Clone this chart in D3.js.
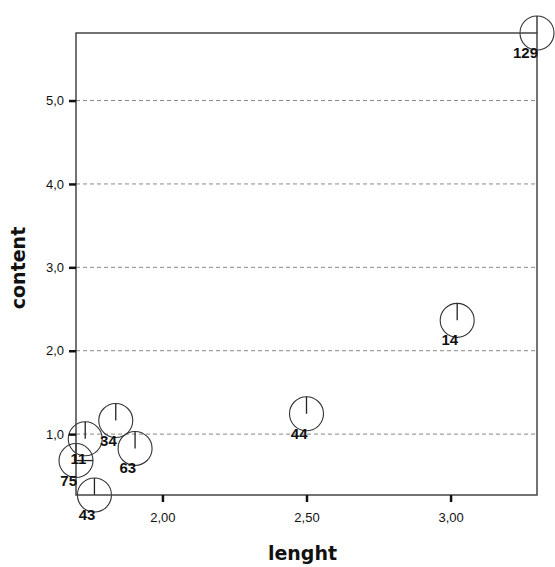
<!DOCTYPE html>
<html>
<head>
<meta charset="utf-8">
<script src="https://cdn.jsdelivr.net/npm/d3@7"></script>
<style>
  body { margin: 0; background: #fff; }
  .tick-label { font-family: Arial, "Liberation Sans", sans-serif; font-size: 13px; fill: #111; }
  .case-label { font-family: Arial, "Liberation Sans", sans-serif; font-size: 15px; font-weight: bold; fill: #111; }
  .axis-title { font-family: "DejaVu Sans", Verdana, sans-serif; font-size: 19px; font-weight: bold; fill: #111; }
</style>
</head>
<body>
<div id="chart"></div>
<script>
// case numbers and their values
const caseIds = ["129", "14", "44", "34", "63", "11", "75", "43"];
const lenght  = [3.30, 3.023, 2.50, 1.838, 1.905, 1.732, 1.70, 1.764];
const content = [5.81, 2.364, 1.244, 1.163, 0.828, 0.944, 0.683, 0.27];
// radius lines drawn inside each marker (degrees, 0 = up)
const spokes  = [[0], [0], [0], [0], [0], [0], [0, 90], [0]];

const xTicks = [2.0, 2.5, 3.0];
const xTickLabels = ["2,00", "2,50", "3,00"];
const yTicks = [1, 2, 3, 4, 5];
const yTickLabels = ["1,0", "2,0", "3,0", "4,0", "5,0"];

let W = 555, H = 567;
let m = { left: 76, right: 18, top: 33, bottom: 72 };
let width = W - m.left - m.right,
    height = H - m.top - m.bottom;

let svg = d3.select("#chart").append("svg")
    .attr("width", W)
    .attr("height", H);

let vis = svg.append("g")
    .attr("transform", "translate(" + m.left + "," + m.top + ")");

let x = d3.scaleLinear().domain(d3.extent(lenght)).range([0, width]);
let y = d3.scaleLinear().domain(d3.extent(content)).range([height, 0]);

const r = 17;
let points = caseIds.map((id, i) => ({ id: id, x: lenght[i], y: content[i], spokes: spokes[i] }));

// dashed gridlines
vis.selectAll(".grid").data(yTicks).enter().append("line")
    .attr("class", "grid")
    .attr("x1", 0).attr("x2", width)
    .attr("y1", d => y(d)).attr("y2", d => y(d))
    .attr("stroke", "#888")
    .attr("stroke-width", 1)
    .attr("stroke-dasharray", "4,3");

// markers
let mk = vis.selectAll(".marker").data(points).enter().append("g")
    .attr("class", "marker")
    .attr("transform", d => "translate(" + x(d.x) + "," + y(d.y) + ")");

mk.append("circle")
    .attr("r", r)
    .attr("fill", "none")
    .attr("stroke", "#333")
    .attr("stroke-width", 1.1);

mk.selectAll(".spoke").data(d => d.spokes).enter().append("line")
    .attr("class", "spoke")
    .attr("x1", 0).attr("y1", 0)
    .attr("x2", a => r * Math.sin(a * Math.PI / 180))
    .attr("y2", a => -r * Math.cos(a * Math.PI / 180))
    .attr("stroke", "#222")
    .attr("stroke-width", 1.3);

// frame
vis.append("rect")
    .attr("x", 0).attr("y", 0)
    .attr("width", width).attr("height", height)
    .attr("fill", "none")
    .attr("stroke", "#444")
    .attr("stroke-width", 1.5);

// x axis
let xAxis = vis.append("g")
    .attr("transform", "translate(0," + height + ")")
    .call(d3.axisBottom(x).tickValues(xTicks).tickSize(7).tickFormat((d, i) => xTickLabels[i]));
xAxis.select(".domain").remove();
xAxis.selectAll(".tick line").attr("stroke", "#111").attr("stroke-width", 2.5);
xAxis.selectAll(".tick text").attr("class", "tick-label").attr("y", 18).attr("font-family", null).attr("font-size", null).attr("fill", null);

// y axis
let yAxis = vis.append("g")
    .call(d3.axisLeft(y).tickValues(yTicks).tickSize(7).tickFormat((d, i) => yTickLabels[i]));
yAxis.select(".domain").remove();
yAxis.selectAll(".tick line").attr("stroke", "#111").attr("stroke-width", 2.5);
yAxis.selectAll(".tick text").attr("class", "tick-label").attr("x", -12).attr("font-family", null).attr("font-size", null).attr("fill", null);

// case labels
vis.selectAll(".case-label").data(points).enter().append("text")
    .attr("class", "case-label")
    .attr("x", d => x(d.x) + 1)
    .attr("y", d => y(d.y) + 25)
    .style("text-anchor", "end")
    .text(d => d.id);

// axis titles
svg.append("text")
    .attr("class", "axis-title")
    .attr("transform", "translate(" + (m.left + width / 2 - 4) + "," + (H - 7) + ")")
    .style("text-anchor", "middle")
    .text("lenght");

svg.append("text")
    .attr("class", "axis-title")
    .attr("transform", "translate(25," + (m.top + height / 2 + 4) + ") rotate(-90)")
    .style("text-anchor", "middle")
    .text("content");
</script>
</body>
</html>
